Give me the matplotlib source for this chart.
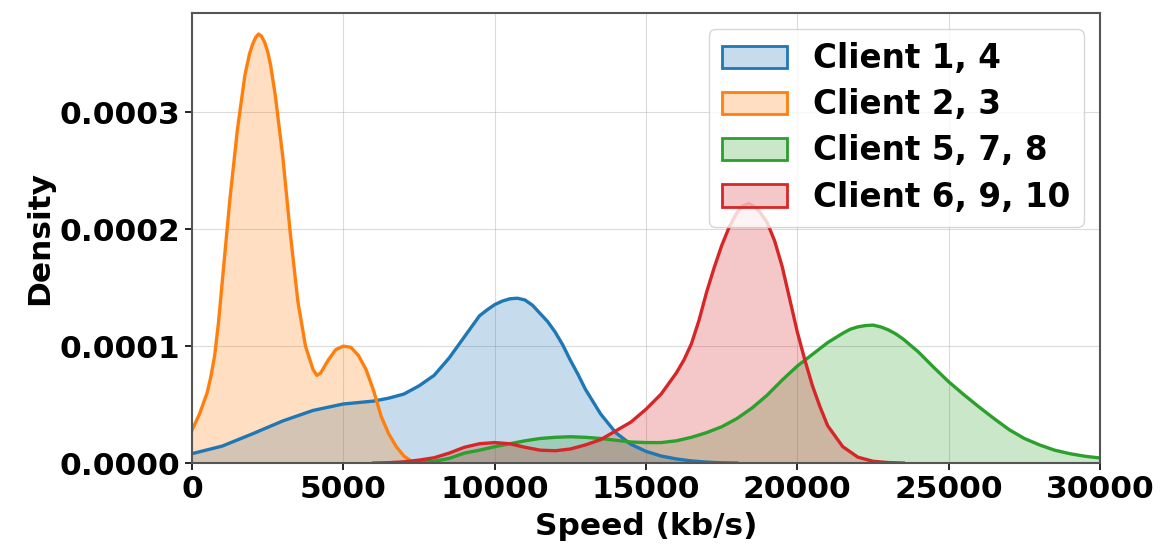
import matplotlib
matplotlib.use("Agg")
import matplotlib.pyplot as plt
import matplotlib.patches as mpatches
from matplotlib.colors import to_rgba
import numpy as np

# values (density in units of 1e-6)
x_orange = [0, 250, 500, 625, 750, 875, 1000, 1250, 1500, 1750, 1900, 2000,
            2100, 2200, 2300, 2400, 2500, 2600, 2750, 3000, 3250, 3500, 3750,
            4000, 4125, 4250, 4500, 4750, 5000, 5250, 5500, 5750, 6000, 6250,
            6500, 6750, 7000, 7250, 7500, 8000]
y_orange = [28, 42, 60, 74, 92, 120, 155, 225, 285, 332, 350, 358,
            364, 367, 365, 360, 352, 340, 315, 262, 196, 138, 100,
            80, 75, 77, 88, 97, 100, 99, 92, 80, 62, 40,
            25, 14, 6, 1.5, 0.3, 0]

x_blue = [0, 1000, 2000, 3000, 4000, 5000, 6000, 6500, 7000, 7500, 8000, 8500,
          9000, 9250, 9500, 9750, 10000, 10250, 10500, 10750, 11000, 11250,
          11500, 11750, 12000, 12250, 12500, 12750, 13000, 13500, 14000, 14500,
          15000, 15500, 16000, 16500, 17000, 17500, 18000]
y_blue = [8, 14.5, 25, 36, 45, 50.5, 53, 55.5, 59, 66, 75, 90,
          108, 117, 126, 131, 135.5, 138.5, 140.5, 141, 139.5, 135,
          128, 121, 112, 101, 88, 76, 63, 42, 26, 16,
          10, 6, 3.5, 1.8, 0.8, 0.2, 0]

x_green = [6500, 7000, 7500, 8000, 8500, 9000, 9500, 10000, 10500, 11000, 11500,
           12000, 12500, 13000, 13500, 14000, 14500, 15000, 15500, 16000, 16500,
           17000, 17500, 18000, 18500, 19000, 19500, 20000, 20500, 21000, 21500,
           21750, 22000, 22250, 22500, 22750, 23000, 23250, 23500, 24000, 24500,
           25000, 25500, 26000, 26500, 27000, 27500, 28000, 28500, 29000, 29500,
           30000]
y_green = [0, 0.3, 0.8, 1.5, 4, 8.5, 11, 14, 16.5, 19, 21,
           22, 22.5, 22, 21, 19.5, 18, 17.5, 17.5, 19, 22,
           26, 31, 38, 47, 58, 71, 83, 93, 103, 111,
           114.5, 116.5, 117.6, 118, 116.5, 114, 110.5, 106, 95, 82,
           69.5, 58.5, 48, 38, 28.5, 21, 15.5, 11, 8, 5.8,
           4.3]

x_red = [6000, 6500, 7000, 7500, 8000, 8500, 9000, 9500, 10000, 10500, 11000,
         11500, 12000, 12500, 13000, 13500, 14000, 14500, 15000, 15500, 16000,
         16250, 16500, 16750, 17000, 17250, 17500, 17750, 18000, 18200, 18400,
         18600, 18750, 19000, 19250, 19500, 19750, 20000, 20250, 20500, 20750,
         21000, 21500, 22000, 22500, 23000, 23500]
y_red = [0, 0.3, 1, 2.5, 4.5, 8.5, 13.5, 16.5, 17.5, 16.5, 13.5,
         11, 10.5, 12, 15.5, 20, 27.5, 35, 46, 59, 77,
         88, 102, 122, 146, 167, 186, 202, 214, 220, 222,
         219, 215, 206, 190, 168, 140, 112, 88, 66, 48,
         32, 14, 5, 1.5, 0.4, 0]

labels = ["Client 1, 4", "Client 2, 3", "Client 5, 7, 8", "Client 6, 9, 10"]
series = [(x_blue, y_blue), (x_orange, y_orange), (x_green, y_green), (x_red, y_red)]
colors = ["#1f77b4", "#ff7f0e", "#2ca02c", "#d62728"]

plt.rcParams["font.family"] = "DejaVu Sans"
plt.rcParams["font.weight"] = "bold"
plt.rcParams["axes.labelweight"] = "bold"

fig = plt.figure(figsize=(11.6, 5.49), dpi=100)
ax = fig.add_axes([0.1655, 0.1566, 0.7828, 0.8197])

for (xs, ys), c in zip(series, colors):
    xs = np.array(xs, float)
    ys = np.array(ys, float) * 1e-6
    ax.fill_between(xs, ys, 0, color=c, alpha=0.25, lw=0)
    ax.plot(xs, ys, color=c, lw=2.4, solid_joinstyle="round")

ax.set_xlim(0, 30000)
ax.set_ylim(0, 0.000385)
ax.set_xticks(np.arange(0, 30001, 5000))
ax.set_yticks([0, 0.0001, 0.0002, 0.0003])
ax.set_yticklabels(["0.0000", "0.0001", "0.0002", "0.0003"])
ax.tick_params(labelsize=22.5, length=5, width=1.2)
ax.grid(True, color="#b0b0b0", alpha=0.45, lw=0.8)
ax.set_axisbelow(True)
for s in ax.spines.values():
    s.set_color("#555555")
    s.set_linewidth(1.5)

ax.set_xlabel("Speed (kb/s)", fontsize=22.5, labelpad=6)
ax.set_ylabel("Density", fontsize=22.5)

handles = [mpatches.Patch(facecolor=to_rgba(c, 0.25), edgecolor=c, lw=2) for c in colors]
ax.legend(handles, labels, loc="upper right", fontsize=23.5, labelspacing=0.4,
          handletextpad=0.8, borderpad=0.4)

fig.savefig("out.png", dpi=100)
